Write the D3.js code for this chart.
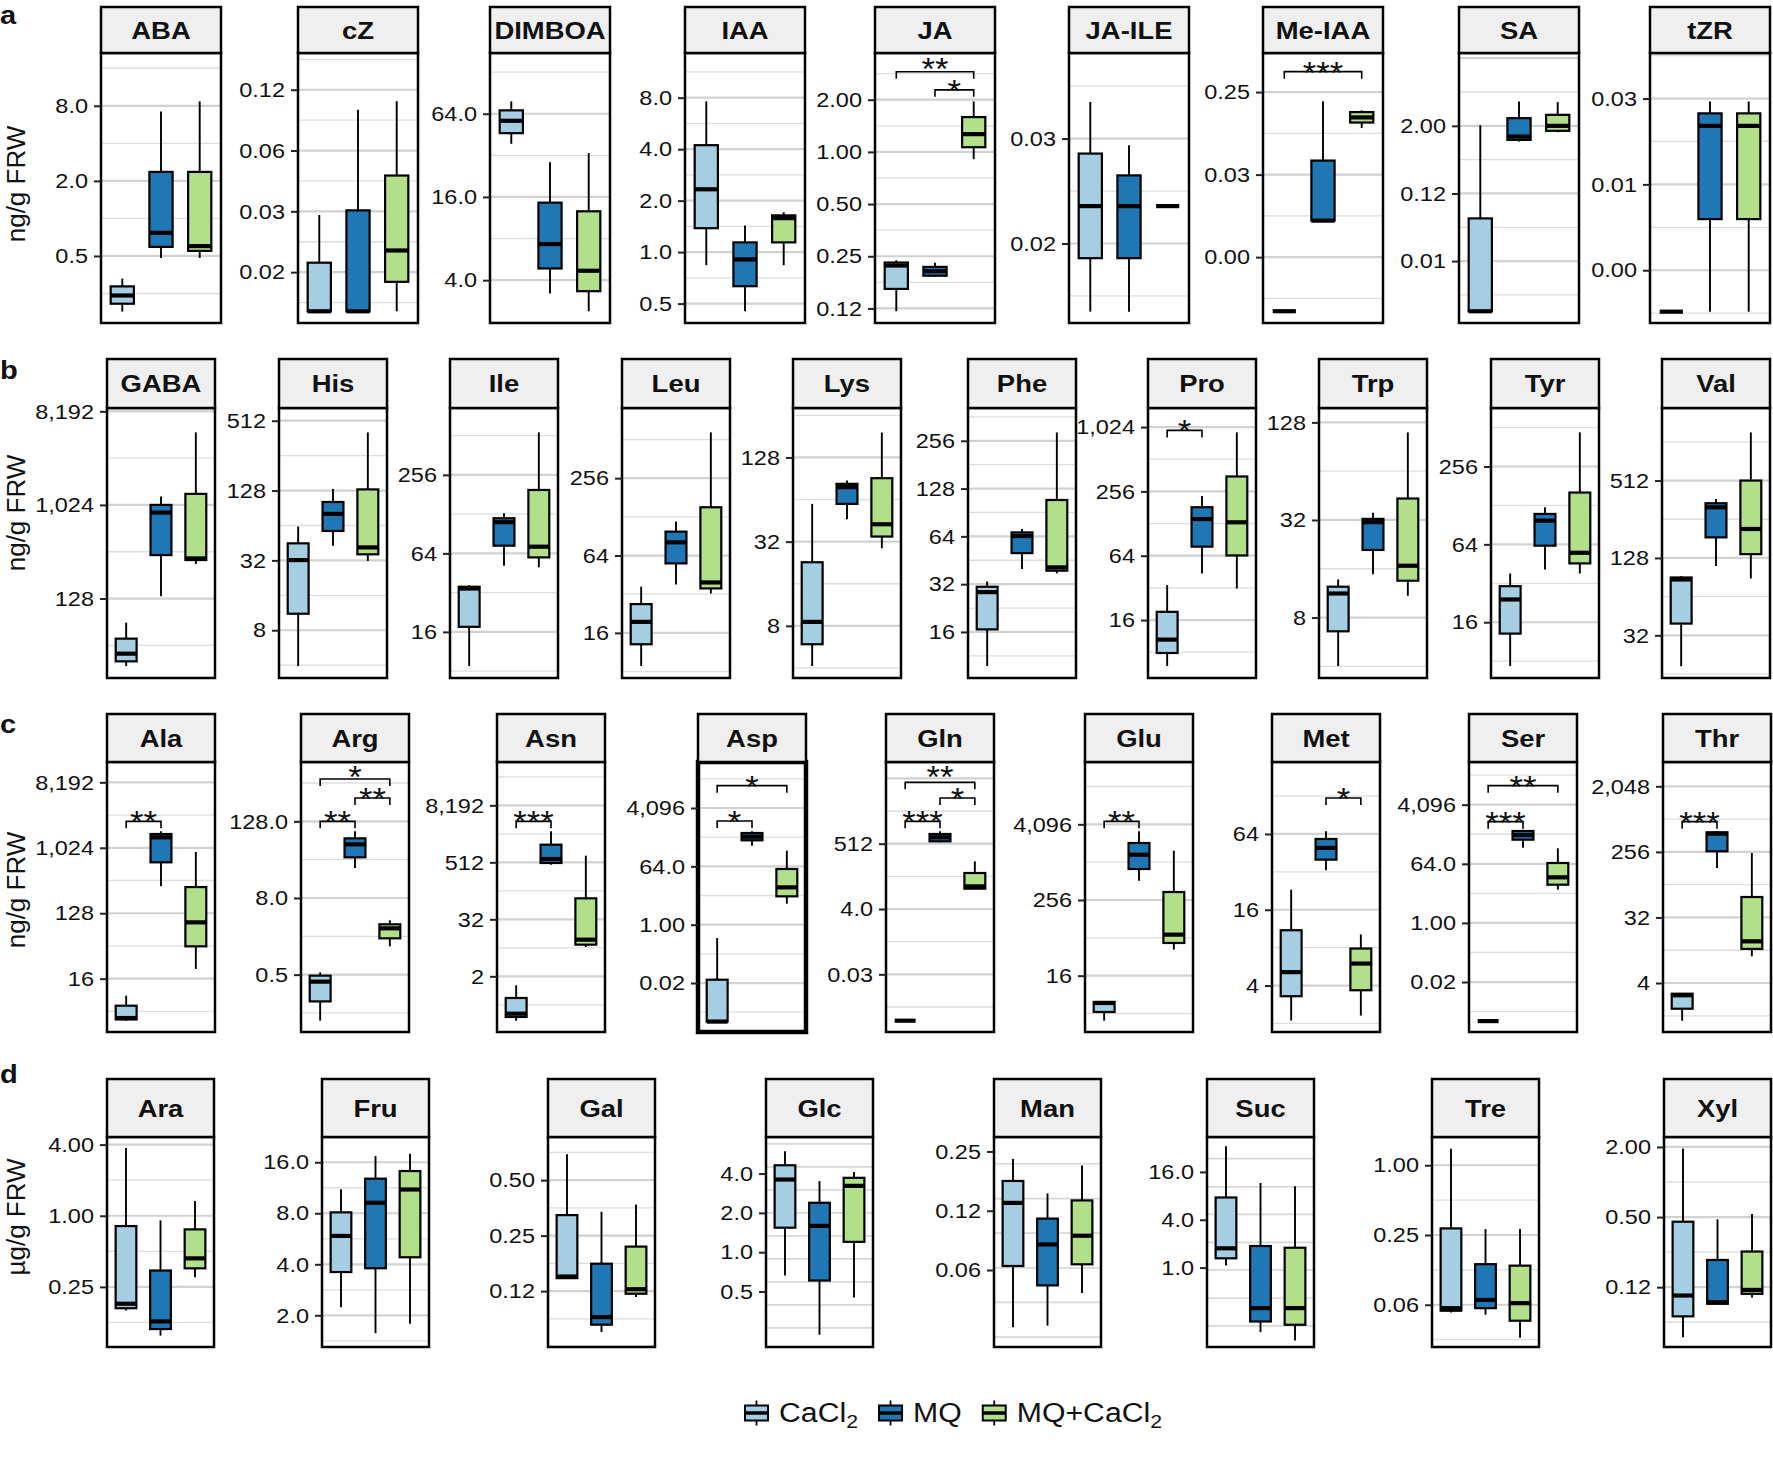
<!DOCTYPE html>
<html><head><meta charset="utf-8">
<script src="https://cdn.jsdelivr.net/npm/d3@7"></script>
<style>
body{margin:0;background:#fff}
svg{display:block}
text{font-family:"Liberation Sans",Arial,Helvetica,sans-serif;fill:#111}
</style></head>
<body><svg id="chart" width="1773" height="1462"></svg>
<script>
// ---------------- DATA ----------------
const groups = ["CaCl2", "MQ", "MQ+CaCl2"];
const groupColors = ["#a6cee3", "#1f78b4", "#b2df8a"];

// Row a : phytohormones (ng/g FRW). Box stats = [min, q1, median, q3, max]
const rowA_names = ["ABA","cZ","DIMBOA","IAA","JA","JA-ILE","Me-IAA","SA","tZR"];
const rowA_ticks = [[0.5,2,8],[0.015625,0.03125,0.0625,0.125],[4,16,64],[0.5,1,2,4,8],[0.125,0.25,0.5,1,2],
  [0.015625,0.03125],[0.00390625,0.03125,0.25],[0.0078125,0.125,2],[0.001953125,0.0078125,0.03125]];
const rowA_tickLabels = [["0.5","2.0","8.0"],["0.02","0.03","0.06","0.12"],["4.0","16.0","64.0"],["0.5","1.0","2.0","4.0","8.0"],
  ["0.12","0.25","0.50","1.00","2.00"],["0.02","0.03"],["0.00","0.03","0.25"],["0.01","0.12","2.00"],["0.00","0.01","0.03"]];
const rowA_limits = [[0.145,21.2],[0.00875,0.190],[1.96,176],[0.385,14.6],[0.103,3.72],[0.00924,0.0550],[0.000743,0.669],[0.000618,39.6],[0.000833,0.0652]];
const rowA_CaCl2 = [[0.179,0.207,0.241,0.285,0.329],[0.01,0.01,0.01,0.0174,0.030],[38.8,46.3,56.9,67.7,78.6],[0.839,1.38,2.33,4.22,7.61],
  [0.1206,0.162,0.221,0.230,0.237],[0.00996,0.01418,0.0200,0.0283,0.0398],[0.001,0.001,0.001,0.001,0.001],[0.001,0.001,0.001,0.045,2.05],[0.001,0.001,0.001,0.001,0.001]];
const rowA_MQ = [[0.482,0.591,0.766,2.36,7.2],[0.01,0.01,0.01,0.0316,0.0996],[3.20,4.86,7.30,14.55,28.5],[0.451,0.632,0.906,1.14,1.43],
  [0.190,0.193,0.205,0.217,0.229],[0.00996,0.01418,0.0200,0.0245,0.0299],[0.0098,0.0098,0.0098,0.0445,0.198],[1.05,1.125,1.29,2.74,5.44],[0.001,0.00446,0.0201,0.0246,0.0298]];
const rowA_MQCaCl2 = [[0.482,0.549,0.60,2.36,8.67],[0.01,0.01399,0.0200,0.047,0.1097],[2.38,3.33,4.68,12.6,33.2],[0.839,1.14,1.58,1.64,1.71],
  [0.907,1.064,1.266,1.588,1.956],[0.02,0.02,0.02,0.02,0.02],[0.101,0.116,0.132,0.151,0.1575],[1.54,1.63,2.0,3.14,5.29],[0.001,0.00446,0.0201,0.0246,0.0298]];
const rowA_signif = [
  {panel:"JA", from:"CaCl2", to:"MQ+CaCl2", y:2.90, label:"**"},
  {panel:"JA", from:"MQ", to:"MQ+CaCl2", y:2.28, label:"*"},
  {panel:"Me-IAA", from:"CaCl2", to:"MQ+CaCl2", y:0.418, label:"***"}];

// Row b : amino acids (ng/g FRW)
const rowB_names = ["GABA","His","Ile","Leu","Lys","Phe","Pro","Trp","Tyr","Val"];
const rowB_ticks = [[128,1024,8192],[8,32,128,512],[16,64,256],[16,64,256],[8,32,128],[16,32,64,128,256],[16,64,256,1024],[8,32,128],[16,64,256],[32,128,512]];
const rowB_tickLabels = [["128","1,024","8,192"],["8","32","128","512"],["16","64","256"],["16","64","256"],["8","32","128"],
  ["16","32","64","128","256"],["16","64","256","1,024"],["8","32","128"],["16","64","256"],["32","128","512"]];
const rowB_limits = [[21.9,8820],[3.10,659],[7.09,833],[7.13,900],[3.39,289],[8.2,412],[4.59,1544],[3.39,157],[5.93,725],[14.9,1878]];
const rowB_CaCl2 = [[28.6,31.7,37.6,52.5,75.0],[3.93,11.1,32.2,44.9,62.6],[8.77,17.5,34.4,35.5,36.5],[8.85,13.05,19.5,26.8,36.6],[4.13,5.91,8.54,22.8,59.6],
  [9.76,16.6,28.5,30.8,33.3],[5.94,7.87,10.5,19.1,34.0],[4.02,6.58,11.26,12.4,13.75],[7.34,13.07,24.0,30.4,38.1],[18.4,39.5,87.0,90.2,92.4]];
const rowB_MQ = [[135,336,864,1024,1233],[42.8,57.4,80.5,102,132],[51.4,73.3,111,119,130],[38.1,55.6,81.1,98.2,117.5],[46.3,59.6,78.5,82.9,87.6],
  [39.8,50.2,64.3,67.8,71.2],[43.7,77.8,141,182,232],[14.8,20.9,31.0,32.5,35.5],[41.0,62.5,97.6,110,124],[111,185,317,341,368]];
const rowB_MQCaCl2 = [[275,301,312,1309,5131],[31.6,36.1,41.4,131,406],[50.0,59.6,72.0,196,542],[32.4,35.5,39.5,152,582],[28.7,34.8,42.6,91.0,193],
  [37.4,38.9,40.8,108.5,289],[31.6,64.4,131.5,353,913],[10.9,13.5,16.7,43.4,111],[38.1,45.6,55.1,161,470],[88.6,137,215,512,1213]];
const rowB_signif = [{panel:"Pro", from:"CaCl2", to:"MQ", y:953, label:"*"}];

// Row c : amino acids (ng/g FRW)
const rowC_names = ["Ala","Arg","Asn","Asp","Gln","Glu","Met","Ser","Thr"];
const rowC_ticks = [[16,128,1024,8192],[0.5,8,128],[2,32,512,8192],[0.015625,1,64,4096],[0.03125,4,512],[16,256,4096],[4,16,64],[0.015625,1,64,4096],[4,32,256,2048]];
const rowC_tickLabels = [["16","128","1,024","8,192"],["0.5","8.0","128.0"],["2","32","512","8,192"],["0.02","1.00","64.0","4,096"],["0.03","4.0","512"],
  ["16","256","4,096"],["4","16","64"],["0.02","1.00","64.0","4,096"],["4","32","256","2,048"]];
const rowC_limits = [[2.94,15630],[0.0628,1095],[0.1333,67450],[0.000476,108800],[0.000432,220400],[2.03,40200],[1.71,238.7],[0.000465,82400],[0.846,4430]];
const rowC_CaCl2 = [[4.21,4.39,4.58,6.78,9.32],[0.0947,0.190,0.388,0.482,0.544],[0.231,0.277,0.325,0.697,1.29],[0.001,0.001,0.001,0.0198,0.387],
  [0.001,0.001,0.001,0.001,0.001],[3.08,4.23,5.88,6.10,6.25],[2.11,3.29,5.11,11.0,23.1],[0.001,0.001,0.001,0.001,0.001],[1.21,1.77,2.71,2.85,2.91]];
const rowC_MQ = [[301,645,1427,1586,1727],[23.7,34.8,55.7,69.2,89.1],[457,496,602,1209,2312],[279,409,531,689,776],[565,609,820,1050,1279],
  [520,797,1347,2066,3170],[32.9,40.0,49.6,58.4,67.2],[199,349,485,642,706],[153.6,261,456,476,491]];
const rowC_MQCaCl2 = [[21.8,44.7,95.8,294,895],[1.39,1.86,2.67,3.09,3.57],[8.33,9.33,11.9,88.9,708],[4.47,7.54,14.3,52.9,196],[18.1,18.1,21.5,58.0,137.8],
  [41.5,53.0,71.9,343,1561],[2.31,3.67,5.98,7.87,10.2],[10.4,14.7,24.7,67.7,190],[9.32,11.8,15.0,61.2,247]];
const rowC_signif = [
  {panel:"Ala", from:"CaCl2", to:"MQ", y:2372, label:"**"},
  {panel:"Arg", from:"CaCl2", to:"MQ+CaCl2", y:592, label:"*"},
  {panel:"Arg", from:"MQ", to:"MQ+CaCl2", y:298, label:"**"},
  {panel:"Arg", from:"CaCl2", to:"MQ", y:128, label:"**"},
  {panel:"Asn", from:"CaCl2", to:"MQ", y:3762, label:"***"},
  {panel:"Asp", from:"CaCl2", to:"MQ+CaCl2", y:20130, label:"*"},
  {panel:"Asp", from:"CaCl2", to:"MQ", y:1621, label:"*"},
  {panel:"Gln", from:"CaCl2", to:"MQ+CaCl2", y:48700, label:"**"},
  {panel:"Gln", from:"MQ", to:"MQ+CaCl2", y:15220, label:"*"},
  {panel:"Gln", from:"CaCl2", to:"MQ", y:2690, label:"***"},
  {panel:"Glu", from:"CaCl2", to:"MQ", y:4572, label:"**"},
  {panel:"Met", from:"MQ", to:"MQ+CaCl2", y:123.6, label:"*"},
  {panel:"Ser", from:"CaCl2", to:"MQ+CaCl2", y:15590, label:"**"},
  {panel:"Ser", from:"CaCl2", to:"MQ", y:1239, label:"***"},
  {panel:"Thr", from:"CaCl2", to:"MQ", y:668, label:"***"}];
const emphasizedPanels = ["Asp"];

// Row d : sugars (µg/g FRW)
const rowD_names = ["Ara","Fru","Gal","Glc","Man","Suc","Tre","Xyl"];
const rowD_ticks = [[0.25,1,4],[2,4,8,16],[0.125,0.25,0.5],[0.5,1,2,4],[0.0625,0.125,0.25],[1,4,16],[0.0625,0.25,1],[0.125,0.5,2]];
const rowD_tickLabels = [["0.25","1.00","4.00"],["2.0","4.0","8.0","16.0"],["0.12","0.25","0.50"],["0.5","1.0","2.0","4.0"],
  ["0.06","0.12","0.25"],["1.0","4.0","16.0"],["0.06","0.25","1.00"],["0.12","0.50","2.00"]];
const rowD_limits = [[0.0775,4.64],[1.30,22.55],[0.0622,0.857],[0.188,7.62],[0.0254,0.296],[0.1003,44],[0.0270,1.753],[0.0383,2.435]];
const rowD_CaCl2 = [[0.158,0.165,0.180,0.818,3.75],[2.23,3.60,5.88,8.10,11.1],[0.1456,0.147,0.150,0.323,0.691],[0.663,1.54,3.60,4.63,5.92],
  [0.0320,0.0655,0.137,0.177,0.229],[1.06,1.31,1.75,7.63,33.6],[0.0537,0.0555,0.0584,0.285,1.39],[0.0464,0.0702,0.106,0.456,1.94]];
const rowD_MQ = [[0.0967,0.110,0.1276,0.344,0.913],[1.57,3.79,9.23,12.8,17.4],[0.0750,0.0822,0.0904,0.176,0.337],[0.2335,0.607,1.59,2.39,3.50],
  [0.0326,0.0522,0.0843,0.114,0.153],[0.154,0.210,0.309,1.87,11.6],[0.0513,0.0584,0.0688,0.140,0.281],[0.0882,0.0900,0.0929,0.214,0.478]];
const rowD_MQCaCl2 = [[0.302,0.359,0.436,0.767,1.33],[1.78,4.40,11.05,14.2,17.98],[0.116,0.121,0.128,0.218,0.369],[0.450,1.20,3.22,3.71,4.12],
  [0.0477,0.0668,0.0933,0.141,0.212],[0.121,0.191,0.309,1.78,10.6],[0.0324,0.0455,0.0645,0.136,0.281],[0.102,0.1096,0.1184,0.253,0.530]];
const rowD_signif = [];
// panels of row d whose background grid does not follow the labelled breaks
const rowD_gridValues = {
  Glc: [6.75, 4.5, 3, 2, 1.333, 0.889, 0.593, 0.395, 0.263],
  Man: [0.2165, 0.144, 0.0962, 0.0641, 0.0428, 0.0285],
  Suc: [23.5, 10.4, 4.67, 2.08, 0.935, 0.412, 0.185]
};

const rowLetters = ["a","b","c","d"];
const rowTitles = ["ng/g FRW","ng/g FRW","ng/g FRW","\u00b5g/g FRW"];

// ---------------- LAYOUT (pixels) ----------------
const layout = [
  {stripTop:7,    plotTop:53,   plotBottom:323,  w:120, lefts:[101,298,490,685,875,1069,1263,1459,1650], letterY:24,   titleY:184},
  {stripTop:359,  plotTop:408,  plotBottom:678,  w:108, lefts:[107,279,450,622,793,968,1148,1319,1491,1662], letterY:379, titleY:513},
  {stripTop:714,  plotTop:762,  plotBottom:1032, w:108, lefts:[107,301,497,698,886,1085,1272,1469,1663], letterY:733, titleY:890},
  {stripTop:1079, plotTop:1137, plotBottom:1347, w:107, lefts:[107,322,548,766,994,1207,1432,1664], letterY:1083, titleY:1217}
];
const SX = 1.12; // horizontal text stretch of the reference

const rows = [
  {names:rowA_names, ticks:rowA_ticks, labels:rowA_tickLabels, limits:rowA_limits, series:[rowA_CaCl2,rowA_MQ,rowA_MQCaCl2], signif:rowA_signif, grid:{}},
  {names:rowB_names, ticks:rowB_ticks, labels:rowB_tickLabels, limits:rowB_limits, series:[rowB_CaCl2,rowB_MQ,rowB_MQCaCl2], signif:rowB_signif, grid:{}},
  {names:rowC_names, ticks:rowC_ticks, labels:rowC_tickLabels, limits:rowC_limits, series:[rowC_CaCl2,rowC_MQ,rowC_MQCaCl2], signif:rowC_signif, grid:{}},
  {names:rowD_names, ticks:rowD_ticks, labels:rowD_tickLabels, limits:rowD_limits, series:[rowD_CaCl2,rowD_MQ,rowD_MQCaCl2], signif:rowD_signif, grid:rowD_gridValues}
];

const svg = d3.select("#chart");

function placeText(sel, x, y) { return sel.attr("transform", `translate(${x},${y}) scale(${SX},1)`); }

rows.forEach((row, r) => {
  const L = layout[r];
  const rg = svg.append("g").attr("class", "row-" + rowLetters[r]);

  // row letter
  placeText(rg.append("text").text(rowLetters[r]).attr("font-size", 26).attr("font-weight", "bold"), 0, L.letterY);
  // y title
  rg.append("text").text(rowTitles[r]).attr("font-size", 26)
    .attr("text-anchor", "middle")
    .attr("transform", `translate(25,${L.titleY}) rotate(-90)`);

  row.names.forEach((name, i) => {
    const left = L.lefts[i], w = L.w;
    const g = rg.append("g").attr("class", "panel");
    const y = d3.scaleLog().base(2).domain(row.limits[i]).range([L.plotBottom, L.plotTop]);
    const x = d3.scalePoint().domain(groups).range([left, left + w]).padding(0.55);
    const bw = x.step() * 0.6;

    // gridlines: major at ticks, minor half-way (in log space)
    const t = row.ticks[i];
    let grid = [];
    if (row.grid[name]) {
      grid = row.grid[name].map(v => ({v, major: null}));
    } else {
      const l0 = Math.log2(t[0]), step = Math.log2(t[1]) - l0;
      const lo = Math.log2(row.limits[i][0]), hi = Math.log2(row.limits[i][1]);
      for (let k = Math.ceil((lo - l0) / (step / 2)); l0 + k * step / 2 <= hi; k++) {
        grid.push({v: Math.pow(2, l0 + k * step / 2), major: ((k % 2) + 2) % 2 === 0});
      }
    }
    g.append("rect").attr("x", left).attr("y", L.plotTop).attr("width", w).attr("height", L.plotBottom - L.plotTop).attr("fill", "#fff");
    g.selectAll("line.grid").data(grid).join("line").attr("class", "grid")
      .attr("x1", left).attr("x2", left + w)
      .attr("y1", d => y(d.v)).attr("y2", d => y(d.v))
      .attr("stroke", d => d.major === null ? "#d8d8d8" : (d.major ? "#d2d2d2" : "#dedede"))
      .attr("stroke-width", d => d.major === null ? 1.7 : (d.major ? 2.2 : 1.3));

    // boxes
    groups.forEach((grp, j) => {
      const s = row.series[j][i];
      const cx = x(grp);
      const bg = g.append("g");
      bg.append("line").attr("x1", cx).attr("x2", cx).attr("y1", y(s[4])).attr("y2", y(s[0]))
        .attr("stroke", "#000").attr("stroke-width", 1.9);
      bg.append("rect").attr("x", cx - bw / 2).attr("y", y(s[3])).attr("width", bw)
        .attr("height", Math.max(0, y(s[1]) - y(s[3])))
        .attr("fill", groupColors[j]).attr("stroke", "#000").attr("stroke-width", 2.2);
      bg.append("line").attr("x1", cx - bw / 2).attr("x2", cx + bw / 2).attr("y1", y(s[2])).attr("y2", y(s[2]))
        .attr("stroke", "#000").attr("stroke-width", 4.2);
    });

    // significance brackets (labels nudged up slightly when stacked brackets are very close)
    const sig = row.signif.filter(s => s.panel === name)
      .map(s => ({...s, x1: x(s.from), x2: x(s.to), yy: y(s.y)}))
      .sort((a, b) => b.yy - a.yy);
    let prevTextY = null;
    sig.forEach(s => {
      g.append("path").attr("d", `M${s.x1},${s.yy + 7}V${s.yy}H${s.x2}V${s.yy + 7}`)
        .attr("fill", "none").attr("stroke", "#000").attr("stroke-width", 1.6);
      let ty = s.yy + 12;
      if (prevTextY !== null && prevTextY - ty < 22) ty = prevTextY - 22;
      prevTextY = ty;
      placeText(g.append("text").text(s.label).attr("font-size", 31).attr("text-anchor", "middle"), (s.x1 + s.x2) / 2, ty);
    });

    // panel border
    const emph = emphasizedPanels.includes(name);
    g.append("rect").attr("x", left).attr("y", L.plotTop).attr("width", w).attr("height", L.plotBottom - L.plotTop)
      .attr("fill", "none").attr("stroke", "#000").attr("stroke-width", emph ? 4.5 : 2.5);

    // strip
    g.append("rect").attr("x", left).attr("y", L.stripTop).attr("width", w).attr("height", L.plotTop - L.stripTop)
      .attr("fill", "#efefef").attr("stroke", "#000").attr("stroke-width", 2.5);
    placeText(g.append("text").text(name).attr("font-size", 24.5).attr("font-weight", "bold")
      .attr("text-anchor", "middle").attr("dy", "0.35em"), left + w / 2, (L.stripTop + L.plotTop) / 2);

    // y axis
    const labels = row.labels[i];
    const axis = d3.axisLeft(y).tickValues(t).tickFormat((d, k) => labels[k]).tickSize(7).tickPadding(6);
    const ag = g.append("g").attr("transform", `translate(${left},0)`).call(axis);
    ag.select(".domain").remove();
    ag.selectAll(".tick line").attr("stroke", "#222").attr("stroke-width", 2);
    ag.selectAll(".tick text").attr("font-size", 21).attr("fill", "#111")
      .attr("font-family", "'Liberation Sans',Arial,sans-serif")
      .attr("x", -13 / SX).attr("transform", `scale(${SX},1)`);
  });
});

// ---------------- LEGEND ----------------
const legend = svg.append("g").attr("class", "legend");
const legendY = 1413;
let lx = 744;
groups.forEach((grp, j) => {
  const kg = legend.append("g");
  const kw = 25, kh = 25;
  kg.append("line").attr("x1", lx + kw / 2).attr("x2", lx + kw / 2).attr("y1", legendY - kh / 2).attr("y2", legendY + kh / 2)
    .attr("stroke", "#000").attr("stroke-width", 1.8);
  kg.append("rect").attr("x", lx + 1).attr("y", legendY - kh * 0.3).attr("width", kw - 2).attr("height", kh * 0.6)
    .attr("fill", groupColors[j]).attr("stroke", "#000").attr("stroke-width", 2);
  kg.append("line").attr("x1", lx + 1).attr("x2", lx + kw - 1).attr("y1", legendY).attr("y2", legendY)
    .attr("stroke", "#000").attr("stroke-width", 3.5);
  const txt = placeText(kg.append("text").attr("font-size", 27).attr("dy", "0.35em"), lx + kw + 10, legendY);
  if (grp.endsWith("CaCl2")) {
    txt.append("tspan").text(grp.slice(0, -1));
    txt.append("tspan").text("2").attr("font-size", 19).attr("dy", 6);
  } else {
    txt.text(grp);
  }
  const tw = txt.node().getComputedTextLength() * SX;
  lx = lx + kw + 10 + tw + 20;
});
</script></body></html>
